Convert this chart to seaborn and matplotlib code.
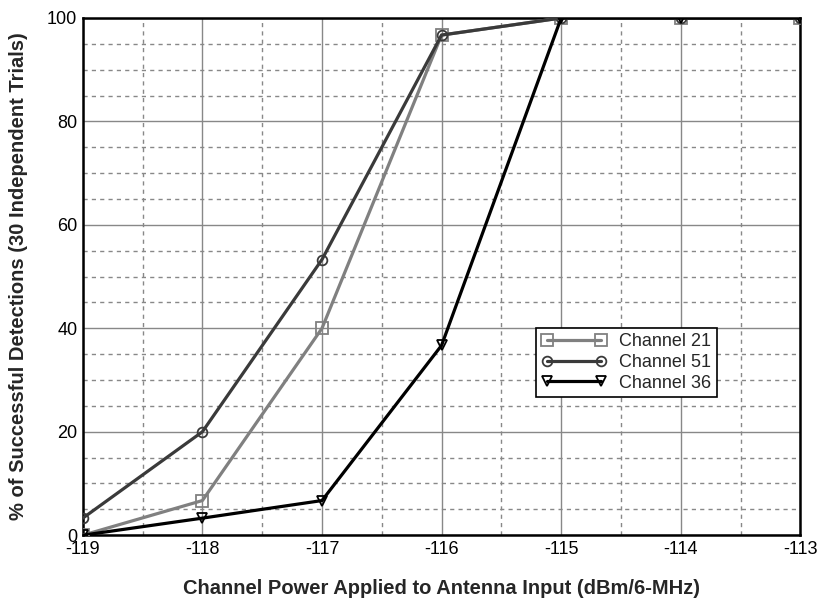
import matplotlib
matplotlib.use("Agg")
import matplotlib.pyplot as plt
import seaborn as sns
import pandas as pd
from matplotlib.ticker import MultipleLocator

power = [-119, -118, -117, -116, -115, -114, -113]
ch21 = [0, 6.7, 40, 96.7, 100, 100, 100]
ch51 = [3.3, 20, 53.3, 96.7, 100, 100, 100]
ch36 = [0, 3.3, 6.7, 36.7, 100, 100, 100]
labels = ["Channel 21", "Channel 51", "Channel 36"]
colors = ["#808080", "#3a3a3a", "#000000"]
markers = ["s", "o", "v"]
msizes = [8, 7, 7]

sns.set_theme(style="white")
plt.rcParams['font.family'] = ['Liberation Sans', 'DejaVu Sans']
plt.rcParams['axes.unicode_minus'] = False

fig = plt.figure(figsize=(8.2, 6.0), dpi=100)
ax = fig.add_axes([0.101, 0.108, 0.875, 0.862])

for vals, lab, c, m, ms in zip([ch21, ch51, ch36], labels, colors, markers, msizes):
    df = pd.DataFrame({"x": power, "y": vals})
    sns.lineplot(data=df, x="x", y="y", ax=ax, color=c, marker=m, markersize=ms,
                 markerfacecolor="none", markeredgecolor=c, markeredgewidth=1.3,
                 linewidth=2.3, label=lab, zorder=3)

ax.set_xlim(-119, -113)
ax.set_ylim(0, 100)
ax.xaxis.set_major_locator(MultipleLocator(1))
ax.xaxis.set_minor_locator(MultipleLocator(0.5))
ax.yaxis.set_major_locator(MultipleLocator(20))
ax.yaxis.set_minor_locator(MultipleLocator(5))
ax.grid(which="major", color="#888888", linestyle="-", linewidth=1.0)
ax.grid(which="minor", color="#888888", linestyle=(0, (3, 3)), linewidth=1.0)
ax.tick_params(which="both", direction="in", length=0)
ax.tick_params(which="major", labelsize=13, colors="black", pad=4)
for s in ax.spines.values():
    s.set_color("black")
    s.set_linewidth(1.8)

ax.set_xlabel("Channel Power Applied to Antenna Input (dBm/6-MHz)", fontsize=14.5,
              fontweight="bold", labelpad=15)
ax.set_ylabel("% of Successful Detections (30 Independent Trials)", fontsize=14.5,
              fontweight="bold", labelpad=14)

leg = ax.legend(loc="lower left", bbox_to_anchor=(0.632, 0.267), borderaxespad=0,
                fontsize=13, numpoints=2,
                frameon=True, fancybox=False, handlelength=3.6, borderpad=0.3,
                labelspacing=0.2, handletextpad=0.7)
leg.get_frame().set_edgecolor("black")
leg.get_frame().set_linewidth(1.2)
leg.get_frame().set_alpha(1)

fig.savefig("out.png", dpi=100)
